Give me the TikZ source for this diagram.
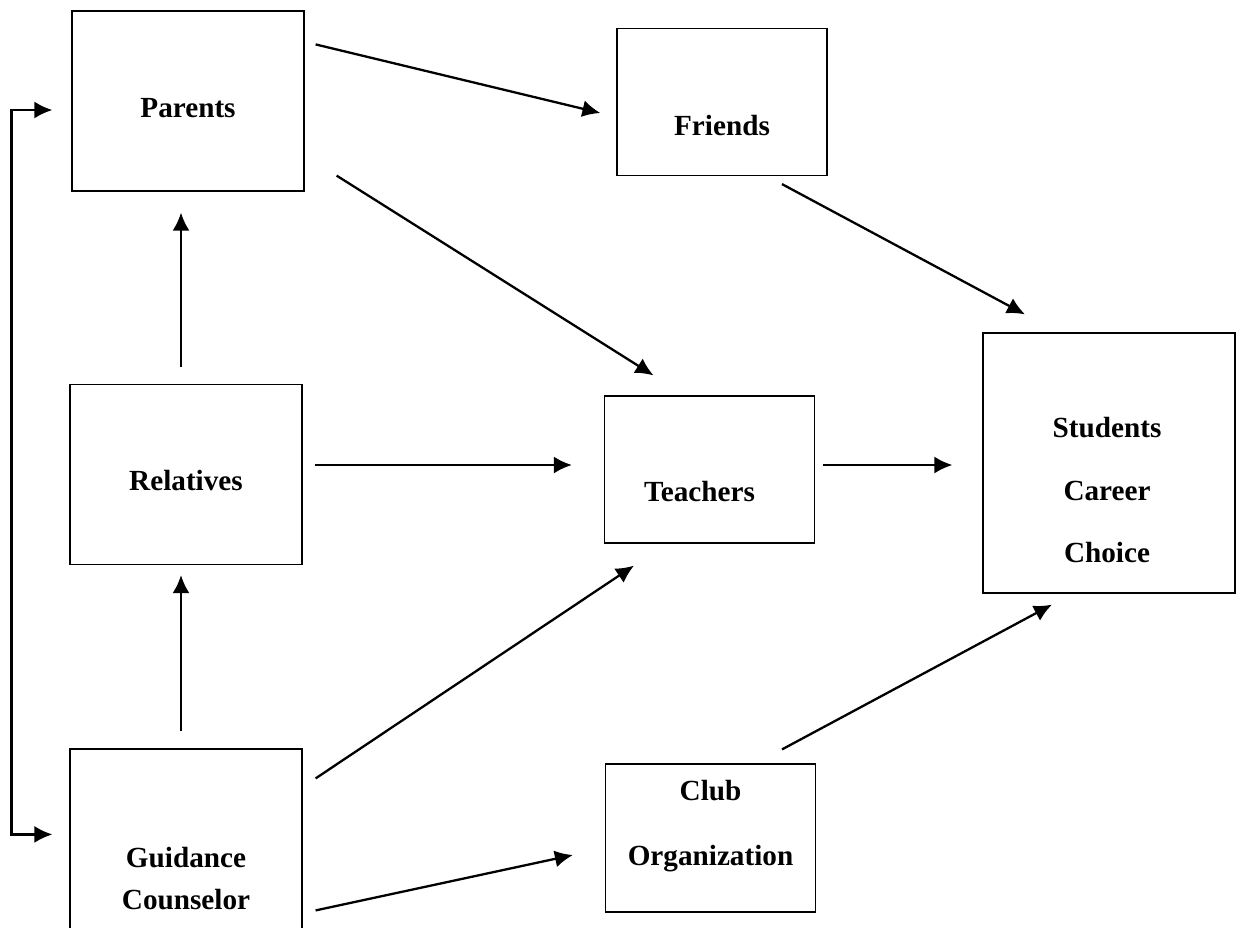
\documentclass[tikz,border=0pt]{standalone}
\usepackage{fontspec}
\setmainfont{Liberation Serif}
\usetikzlibrary{arrows.meta}

\begin{document}
\begin{tikzpicture}[x=0.5pt,y=-0.5pt]
  \tikzset{BIG/.style={draw, line width=0.6pt, minimum width=116pt, minimum height=90pt} }
  \tikzset{SMALL/.style={draw, line width=0.6pt, minimum width=105pt, minimum height=73.5pt} }
  \tikzset{GOAL/.style={draw, line width=0.6pt, minimum width=126pt, minimum height=130pt} }
  \tikzset{TXT/.style={font=\fontsize{14.6}{21}\selectfont\bfseries, align=center, inner sep=0pt} }
  \tikzset{ARR/.style={->, >={Latex[length=9pt,width=8.5pt]}, line width=1.15pt} }

  \useasboundingbox (0,0) rectangle (1241,927);
  \clip (0,0) rectangle (1241,927);

  \node[BIG] (parents) at (188,101) {};
  \node[BIG] (relatives) at (186,474.5) {};
  \node[BIG, minimum height=95.5pt] (guidance) at (186,844.5) {};
  \node[SMALL] (friends) at (722,102) {};
  \node[SMALL] (teachers) at (709.5,469.5) {};
  \node[SMALL, minimum height=74pt] (club) at (710.5,838) {};
  \node[GOAL] (students) at (1109,463) {};

  \node[TXT] (parentsT) at ([shift={(0,7)}]parents.center) {Parents};
  \node[TXT] (relativesT) at ([shift={(0,6)}]relatives.center) {Relatives};
  \node[TXT] (guidanceT) at ([shift={(0,130)}]guidance.north) {Guidance\\Counselor};
  \node[TXT] (friendsT) at ([shift={(0,24)}]friends.center) {Friends};
  \node[TXT] (teachersT) at ([shift={(-10,22)}]teachers.center) {Teachers};
  \node[TXT] (clubT) at ([shift={(0,-12)}]club.center) {Club\\[11.5pt]Organization};
  \node[TXT] (studentsT) at ([shift={(-2,27)}]students.center) {Students\\[10.25pt]Career\\[10.25pt]Choice};

  \draw[ARR] ([shift={(11,34)}]parents.north east) -- ([shift={(-16,11)}]friends.west);
  \draw[ARR] ([shift={(32,-16)}]parents.south east) -- ([shift={(-56,-20)}]teachers.north);
  \draw[ARR] ([shift={(60,8)}]friends.south) -- ([shift={(-84,-18)}]students.north);
  \draw[ARR] ([shift={(-5,-17)}]relatives.north) -- ([shift={(-7,21)}]parents.south);
  \draw[ARR] ([shift={(12,-9.5)}]relatives.east) -- ([shift={(-32,-4.5)}]teachers.west);
  \draw[ARR] ([shift={(8,-4.5)}]teachers.east) -- ([shift={(-30,2)}]students.west);
  \draw[ARR] ([shift={(-5,-17)}]guidance.north) -- ([shift={(-5,10)}]relatives.south);
  \draw[ARR] ([shift={(13,30)}]guidance.north east) -- ([shift={(-75.5,22)}]teachers.south);
  \draw[ARR] ([shift={(13,162)}]guidance.north east) -- ([shift={(-32,17)}]club.west);
  \draw[ARR] ([shift={(71.5,-14)}]club.north) -- ([shift={(-57,11)}]students.south);

  \draw[ARR, <->] ([shift={(-19,9)}]parents.west) -- ++(-41,0) |- ([shift={(-17,86)}]guidance.north west);
\end{tikzpicture}
\end{document}
